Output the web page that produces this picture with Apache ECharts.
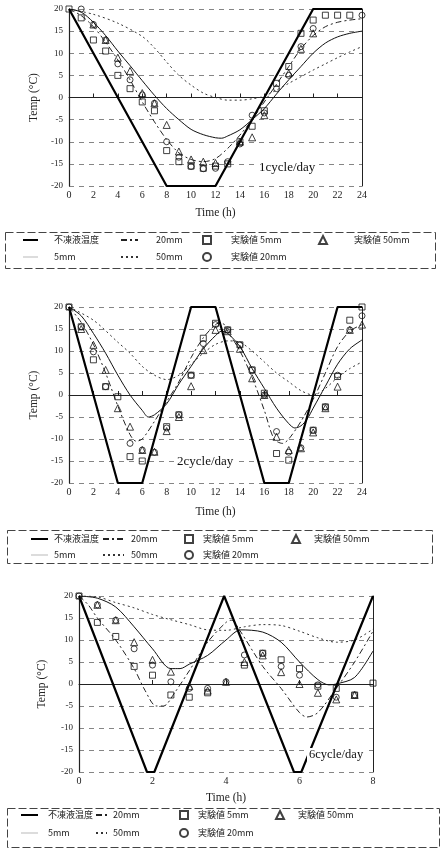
<!DOCTYPE html>
<html>
<head>
<meta charset="utf-8">
<script src="https://cdn.jsdelivr.net/npm/echarts@6.0.0/dist/echarts.min.js"></script>
<style>
  html, body { margin: 0; padding: 0; background: #fff; }
  #chart { width: 445px; height: 867px; }
</style>
</head>
<body>
<div id="chart"></div>
<script>
// ---- 1cycle/day ----
const antifreeze1 = [[0,20],[8,-20],[12,-20],[20,20],[24,20]];
const model5mm1 = [[0,20],[1,19.3],[2,17],[3,14],[4,10.5],[5,7.2],[6,3.8],[7,0.5],[8,-2.5],[9,-5],[10,-7.2],[11,-8.4],[12,-9.1],[12.5,-9.2],[13,-8.7],[14,-7.3],[15,-5],[16,-2.5],[17,0.8],[18,4],[19,7],[20,10],[21,12.3],[22,13.7],[23,14.5],[24,15]];
const model20mm1 = [[0,20],[1,18.5],[2,16],[3,12.5],[4,8.5],[5,4],[6,-1],[7,-5.5],[8,-9.5],[9,-12.5],[10,-14],[11,-14.5],[12,-13.8],[13,-11.5],[14,-8.5],[15,-5],[16,-1],[17,3],[18,7],[19,11],[20,14],[21,16],[22,17],[23,17.5],[24,17.8]];
const model50mm1 = [[0,20],[2,18.8],[4,16.8],[6,13.8],[7,11.2],[8,8],[9,5],[10,2.8],[11,1],[12,0],[13,-0.6],[14,-0.6],[15,-0.3],[16,0.3],[17,1.7],[18,3.2],[19,4.7],[20,6.2],[21,7.6],[22,9],[23,10.3],[24,11.5]];
const exp5mm1 = [[0,20],[1,18],[2,13],[3,10.5],[4,5],[5,2],[6,-1],[7,-3],[8,-12],[9,-14.5],[10,-15.5],[11,-16],[12,-15.5],[13,-15],[14,-10],[15,-6.5],[16,-3],[17,3.2],[18,7],[19,14.5],[20,17.5],[21,18.6],[22,18.6],[23,18.6]];
const exp20mm1 = [[1,20],[2,16.5],[3,13],[4,7.6],[5,4],[6,0.6],[7,-1.3],[8,-10],[9,-13.5],[10,-15.6],[11,-16.1],[12,-16],[13,-14.5],[14,-10.5],[15,-4],[16,-3.5],[17,2],[18,5],[19,11.5],[20,15.6],[24,18.6]];
const exp50mm1 = [[2,16.5],[3,13],[4,9],[5,6],[6,1],[7,-1.3],[8,-6.2],[9,-12.2],[10,-14],[11,-14.5],[12,-14.8],[14,-10],[15,-9],[16,-4],[18,5.5],[19,11],[20,14.5]];

// ---- 2cycle/day ----
const antifreeze2 = [[0,20],[4,-20],[6,-20],[10,20],[12,20],[16,-20],[18,-20],[22,20],[24,20]];
const model5mm2 = [[0,20],[1,18],[2,14],[3,9.5],[4,4.5],[5,0],[6,-3.5],[6.5,-5],[7,-4.5],[8,-2],[9,2.5],[10,6.5],[11,10.5],[12,13.5],[12.5,14.5],[13,14],[14,11],[15,6],[16,1.5],[17,-3],[18,-6.5],[18.5,-7.5],[19,-7],[19.5,-5.5],[20,-3],[21,2],[22,7],[23,10.5],[24,12.5]];
const model20mm2 = [[0,20],[1,16.5],[2,11.5],[3,5],[4,-2.5],[5,-9],[5.5,-10.5],[6,-10],[7,-6],[8,-1.5],[9,3],[10,8.5],[11,13],[12,16],[12.5,16.5],[13,14.5],[14,10],[15,4],[16,-3.5],[16.8,-10],[17.5,-11],[18,-10],[19,-6],[20,-1],[21,5],[22,11],[23,14.5],[24,16]];
const model50mm2 = [[0,20],[2,17],[4,12],[5,9.5],[6,6.5],[7,4.5],[8,3.5],[9,4.5],[10,7],[11,9.5],[12,11.5],[13,12.3],[14,12],[15,10],[16,7.5],[17,5],[18,3],[19,1],[20,0],[21,1.5],[22,4],[23,6],[24,7.5]];
const exp5mm2 = [[0,20],[1,15.5],[2,8],[3,1.9],[4,-0.4],[5,-14],[6,-15],[8,-7.2],[9,-4.5],[10,4.5],[11,12.9],[12,16.3],[13,14.8],[14,11.4],[15,5.7],[16,0.4],[17,-13.3],[18,-14.8],[20,-8],[21,-2.7],[22,4.2],[23,17],[24,20]];
const exp20mm2 = [[0,20],[1,15.5],[2,9.8],[3,1.9],[5,-11],[6,-12.5],[7,-13],[8,-7.5],[9,-4.5],[10,4.5],[11,11.7],[12,16],[13,14.8],[14,11.4],[15,5.7],[16,0],[17,-8.3],[18,-13],[19,-12],[20,-8],[21,-2.7],[22,4.5],[23,14.8],[24,18]];
const exp50mm2 = [[1,15],[2,11.4],[3,5.7],[4,-3],[5,-7.2],[6,-12.5],[7,-12.9],[8,-8.2],[9,-5],[10,2],[11,10.2],[12,14.8],[13,14.5],[14,10.5],[15,3.8],[16,0],[17,-9.5],[18,-12.5],[19,-12.1],[20,-8.5],[21,-3],[22,1.9],[23,14.8],[24,16]];

// ---- 6cycle/day ----
const antifreeze3 = [[0,20],[1.85,-20],[2.05,-20],[3.95,20],[5.85,-20],[6.05,-20],[8,20]];
const model5mm3 = [[0,20],[0.5,19.5],[1,17.5],[1.5,13],[2,8],[2.5,3.5],[2.75,3.5],[3,4.5],[3.5,6.5],[4,10],[4.4,12.3],[5,11.8],[5.5,9.5],[6,5],[6.5,1],[6.8,-0.2],[7,0],[7.5,1.5],[8,7.5]];
const model20mm3 = [[0,20],[0.25,18],[0.5,15],[1,10],[1.5,3.5],[1.8,-1.5],[2.1,-5],[2.3,-5],[2.6,-2],[3,3],[3.5,9.5],[4,14],[4.15,14.5],[4.35,12.5],[5,4],[5.5,-1],[6,-6.5],[6.2,-7.5],[6.5,-6.5],[7,-1],[7.5,5],[8,12]];
const model50mm3 = [[0,20],[0.5,19.8],[1,18.5],[1.5,17.3],[2,15.8],[2.5,14.6],[3,13.5],[3.5,12.3],[4,12.2],[4.5,13],[5,13.5],[5.5,13.3],[6,12],[6.5,10.5],[7,9.5],[7.5,10],[8,12.5]];
const exp5mm3 = [[0,20],[0.5,14],[1,10.8],[1.5,4],[2,2],[2.5,-2.5],[3,-3],[3.5,-2],[4.5,4.3],[5,7],[5.5,5.5],[6,3.5],[6.5,-0.5],[7,-1],[7.5,-2.5],[8,0.2]];
const exp20mm3 = [[0,20],[0.5,18],[1,14.5],[1.5,8],[2,4.3],[2.5,0.5],[3,-1],[3.5,-1],[4,0.5],[4.5,6.6],[5,7],[5.5,4],[6,2],[6.5,-0.2],[7,-3],[7.5,-2.5]];
const exp50mm3 = [[0.5,18],[1,14.5],[1.5,9.5],[2,5.5],[2.5,2.8],[3,-0.5],[3.5,-1.5],[4,0.5],[4.5,5],[5,6.5],[5.5,2.7],[6,0],[6.5,-2],[7,-3.5],[7.5,-2.5]];

const cycleLabels = ['1cycle/day', '2cycle/day', '6cycle/day'];
const xMax = [24, 24, 8];

const charts = [
  [antifreeze1, model5mm1, model20mm1, model50mm1, exp5mm1, exp20mm1, exp50mm1],
  [antifreeze2, model5mm2, model20mm2, model50mm2, exp5mm2, exp20mm2, exp50mm2],
  [antifreeze3, model5mm3, model20mm3, model50mm3, exp5mm3, exp20mm3, exp50mm3]
];

const serif = '"Liberation Serif", "DejaVu Serif", serif';
const cjk = '"Noto Sans CJK JP", "Noto Sans", sans-serif';

const grids = [
  {left: 69, top: 9, width: 293, height: 177},
  {left: 69, top: 307, width: 293, height: 176},
  {left: 79, top: 596, width: 294, height: 176}
];
const xNameGap = [21, 23, 20];
const yNameGap = [22, 22, 31];

const xAxes = [], yAxes = [], series = [];
grids.forEach((g, i) => {
  xAxes.push({
    type: 'value', gridIndex: i, min: 0, max: xMax[i], interval: 2,
    name: 'Time (h)', nameLocation: 'middle', nameGap: xNameGap[i],
    nameTextStyle: {fontFamily: serif, fontSize: 11.5, color: '#222'},
    axisLine: {show: true, lineStyle: {color: '#222', width: 1}},
    axisTick: {show: true, inside: true, length: 4, lineStyle: {color: '#222'}},
    axisLabel: {fontFamily: serif, fontSize: 10, color: '#222', margin: 4},
    splitLine: {show: false}
  });
  yAxes.push({
    type: 'value', gridIndex: i, min: -20, max: 20, interval: 5,
    name: 'Temp (°C)', nameLocation: 'middle', nameRotate: 90, nameGap: yNameGap[i],
    nameTextStyle: {fontFamily: serif, fontSize: 11.5, color: '#222'},
    axisLine: {show: true, lineStyle: {color: '#222', width: 1.2}},
    axisTick: {show: false},
    axisLabel: {fontFamily: serif, fontSize: 9, color: '#222', margin: 6},
    splitLine: {show: true, lineStyle: {color: '#666', width: 0.8, type: [5, 5]}}
  });
  yAxes.push({
    type: 'value', gridIndex: i, min: -20, max: 20, interval: 5, position: 'right',
    axisLine: {show: true, lineStyle: {color: '#222', width: 1}},
    axisTick: {show: false}, axisLabel: {show: false}, splitLine: {show: false}
  });

  const [af, m5, m20, m50, e5, e20, e50] = charts[i];
  const base = {xAxisIndex: i, yAxisIndex: i * 2, silent: true};
  series.push(Object.assign({}, base, {
    name: '不凍液温度', type: 'line', data: af, symbol: 'none', z: 4,
    itemStyle: {color: '#000'}, lineStyle: {color: '#000', width: 2.2}
  }));
  series.push(Object.assign({}, base, {
    name: '5mm', type: 'line', data: m5, symbol: 'none', smooth: 0.3, z: 3,
    itemStyle: {color: '#111'}, lineStyle: {color: '#111', width: 1}
  }));
  series.push(Object.assign({}, base, {
    name: '20mm', type: 'line', data: m20, symbol: 'none', smooth: 0.3, z: 3,
    itemStyle: {color: '#222'}, lineStyle: {color: '#222', width: 1, type: [6, 3, 2, 3]}
  }));
  series.push(Object.assign({}, base, {
    name: '50mm', type: 'line', data: m50, symbol: 'none', smooth: 0.3, z: 3,
    itemStyle: {color: '#333'}, lineStyle: {color: '#333', width: 1, type: [2, 3]}
  }));
  const hollow = {color: 'rgba(255,255,255,0)', borderColor: '#111', borderWidth: 1};
  series.push(Object.assign({}, base, {
    name: '実験値 5mm', type: 'scatter', data: e5, symbol: 'rect', symbolSize: 6, z: 5, itemStyle: hollow
  }));
  series.push(Object.assign({}, base, {
    name: '実験値 20mm', type: 'scatter', data: e20, symbol: 'circle', symbolSize: 6, z: 5, itemStyle: hollow
  }));
  series.push(Object.assign({}, base, {
    name: '実験値 50mm', type: 'scatter', data: e50, symbol: 'triangle', symbolSize: 7, z: 5, itemStyle: hollow
  }));
});

// legend boxes: [iconLeft, iconWidth, textLeft] for the 4 columns
const legendCols = [
  ['不凍液温度', '5mm'],
  ['20mm', '50mm'],
  ['実験値 5mm', '実験値 20mm'],
  ['実験値 50mm']
];
const lineNames = ['不凍液温度', '5mm', '20mm', '50mm'];
const legendLayouts = [
  {row1: 240, gap: 17, box: [3, 230, 430, 36], cols: [[22, 15, 53], [120, 17, 155], [202, 8, 230], [318, 8, 353]]},
  {row1: 539, gap: 16, box: [5, 528, 425, 33], cols: [[30, 17, 53], [102, 21, 130], [184, 8, 202], [291, 8, 313]]},
  {row1: 815, gap: 18, box: [5, 806, 432, 39], cols: [[20, 17, 47], [95, 11, 112], [179, 8, 197], [275, 8, 297]]}
];

const legends = [];
const graphics = [];
legendLayouts.forEach((lay, i) => {
  lay.cols.forEach((c, j) => {
    legends.push({
      orient: 'vertical', left: c[0], top: lay.row1 - 6, padding: 0,
      itemWidth: c[1], itemHeight: 8, itemGap: lay.gap - 12,
      selectedMode: false,
      textStyle: {fontFamily: cjk, fontSize: 9, color: '#222', lineHeight: 12,
                  padding: [0, 0, 0, Math.max(0, c[2] - (c[0] + c[1] + 5))]},
      data: legendCols[j].map(n => {
        if (n === '5mm') return {name: n, itemStyle: {opacity: 0}, lineStyle: {opacity: 0.15}};
        if (lineNames.includes(n)) return {name: n, itemStyle: {opacity: 0}};
        return n;
      })
    });
  });
  const b = lay.box;
  graphics.push({
    type: 'rect', left: b[0], top: b[1], shape: {width: b[2], height: b[3]},
    style: {fill: 'none', stroke: '#444', lineWidth: 1, lineDash: [8, 3]}, silent: true
  });
});

const labelPos = [[257, 161, 13], [175, 455, 13], [307, 748, 12.5]];
labelPos.forEach((p, i) => {
  graphics.push({
    type: 'text', left: p[0], top: p[1], z: 10,
    style: {text: cycleLabels[i], font: p[2] + 'px ' + serif, fill: '#111',
            backgroundColor: '#fff', padding: [0, 2]}
  });
});

const chart = echarts.init(document.getElementById('chart'));
chart.setOption({
  animation: false,
  backgroundColor: '#fff',
  grid: grids,
  xAxis: xAxes,
  yAxis: yAxes,
  legend: legends,
  graphic: graphics,
  series: series
});
</script>
</body>
</html>
